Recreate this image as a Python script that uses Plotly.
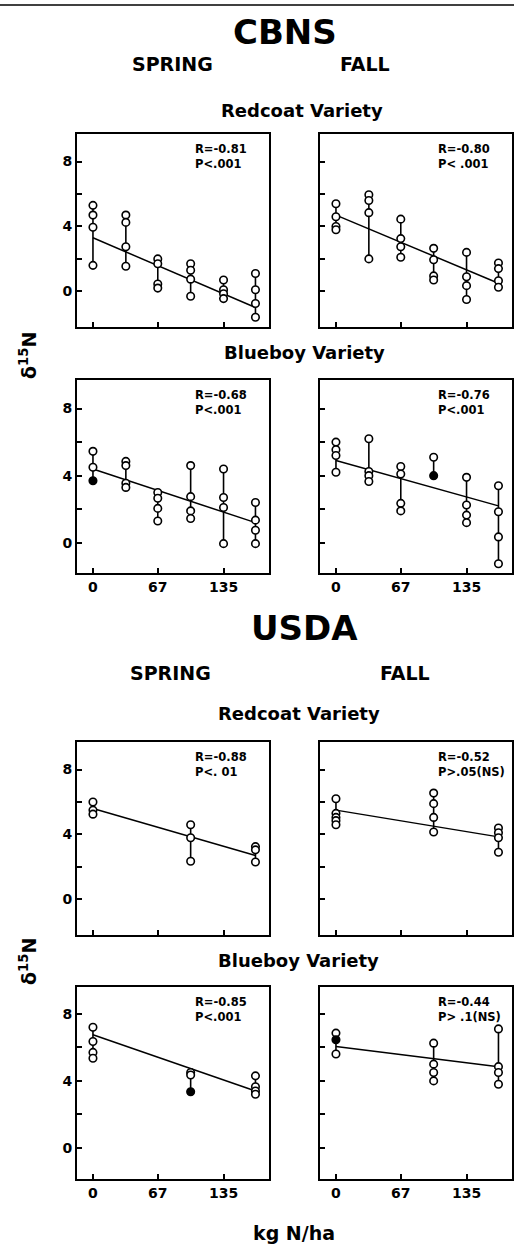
import plotly.graph_objects as go

W, H = 514, 1246

# ---------------- data ----------------
# nitrogen rates (kg N/ha)
x_cbns = [0, 34, 67, 101, 135, 168]
x_usda = [0, 101, 168]

# CBNS, Redcoat, spring  (open circles per N rate)
cbns_red_spring = [[5.3, 4.7, 3.95, 1.6], [4.7, 4.25, 2.75, 1.55], [2.0, 1.7, 0.45, 0.2],
                   [1.7, 1.3, 0.75, -0.3], [0.7, 0.1, -0.15, -0.45], [1.1, 0.1, -0.75, -1.6]]
cbns_red_spring_filled = [[], [], [], [], [], []]
cbns_red_spring_fit = [3.3, -1.0]

# CBNS, Redcoat, fall
cbns_red_fall = [[5.4, 4.6, 4.0, 3.8], [5.95, 5.6, 4.85, 2.0], [4.45, 3.25, 2.75, 2.1],
                 [2.65, 1.95, 0.95, 0.7], [2.4, 0.9, 0.35, -0.5], [1.75, 1.4, 0.65, 0.25]]
cbns_red_fall_filled = [[], [], [], [], [], []]
cbns_red_fall_fit = [4.7, 0.5]

# CBNS, Blueboy, spring
cbns_blue_spring = [[5.45, 4.5], [4.85, 4.6, 3.55, 3.3], [3.0, 2.65, 2.05, 1.3],
                    [4.6, 2.75, 1.9, 1.45], [4.4, 2.7, 2.1, -0.05], [2.4, 1.35, 0.75, -0.05]]
cbns_blue_spring_filled = [[3.7], [], [], [], [], []]
cbns_blue_spring_fit = [4.4, 1.2]

# CBNS, Blueboy, fall
cbns_blue_fall = [[6.0, 5.55, 5.2, 4.2], [6.2, 4.25, 4.0, 3.65], [4.55, 4.1, 2.35, 1.9],
                  [5.1], [3.9, 2.25, 1.65, 1.2], [3.4, 1.85, 0.35, -1.25]]
cbns_blue_fall_filled = [[], [], [], [4.0], [], []]
cbns_blue_fall_fit = [4.9, 2.2]

# USDA, Redcoat, spring
usda_red_spring = [[6.0, 5.5, 5.25], [4.6, 3.8, 2.35], [3.25, 3.05, 2.3]]
usda_red_spring_filled = [[], [], []]
usda_red_spring_fit = [5.6, 2.7]

# USDA, Redcoat, fall
usda_red_fall = [[6.2, 5.3, 5.05, 4.85, 4.6], [6.55, 5.9, 5.05, 4.15], [4.4, 4.1, 3.8, 2.9]]
usda_red_fall_filled = [[], [], []]
usda_red_fall_fit = [5.5, 3.85]

# USDA, Blueboy, spring
usda_blue_spring = [[7.2, 6.35, 5.7, 5.35], [4.5, 4.35], [4.3, 3.65, 3.4, 3.2]]
usda_blue_spring_filled = [[], [3.35], []]
usda_blue_spring_fit = [6.75, 3.4]

# USDA, Blueboy, fall
usda_blue_fall = [[6.85, 5.6], [6.25, 5.0, 4.5, 4.0], [7.1, 4.85, 4.5, 3.8]]
usda_blue_fall_filled = [[6.45], [], []]
usda_blue_fall_fit = [6.05, 4.85]

r_labels = ["R=-0.81", "R=-0.80", "R=-0.68", "R=-0.76", "R=-0.88", "R=-0.52", "R=-0.85", "R=-0.44"]
p_labels = ["P&lt;.001", "P&lt; .001", "P&lt;.001", "P&lt;.001", "P&lt;. 01", "P&gt;.05(NS)", "P&lt;.001", "P&gt; .1(NS)"]

x_tickvals = [0, 67, 135]
x_ticktext = ["0", "67", "135"]
y_tickvals = [0, 4, 8]
y_ticktext = ["0", "4", "8"]
y_minor_tickvals = [2, 6]

# ---------------- layout geometry (pixels) ----------------
rows_px = [(134, 327), (380, 573), (742, 935), (987, 1179)]
cols_px = [(77, 269), (320, 512)]
y_ranges = [[-2.2, 9.7], [-1.8, 9.7], [-2.2, 9.7], [-1.85, 9.6]]
x_range = [-16.5, 182]

panels = [
    (x_cbns, cbns_red_spring, cbns_red_spring_filled, cbns_red_spring_fit),
    (x_cbns, cbns_red_fall, cbns_red_fall_filled, cbns_red_fall_fit),
    (x_cbns, cbns_blue_spring, cbns_blue_spring_filled, cbns_blue_spring_fit),
    (x_cbns, cbns_blue_fall, cbns_blue_fall_filled, cbns_blue_fall_fit),
    (x_usda, usda_red_spring, usda_red_spring_filled, usda_red_spring_fit),
    (x_usda, usda_red_fall, usda_red_fall_filled, usda_red_fall_fit),
    (x_usda, usda_blue_spring, usda_blue_spring_filled, usda_blue_spring_fit),
    (x_usda, usda_blue_fall, usda_blue_fall_filled, usda_blue_fall_fit),
]

FONT = "DejaVu Sans"
fig = go.Figure()
layout = dict(width=W, height=H, margin=dict(l=0, r=0, t=0, b=0),
              paper_bgcolor="white", plot_bgcolor="white", showlegend=False)
annotations = []


def px_x(x):
    return x / W


def px_y(y):
    return 1 - y / H


for i, (xs, groups, filled, fit) in enumerate(panels):
    n = i + 1
    row, col = divmod(i, 2)
    t, b = rows_px[row]
    l, r = cols_px[col]
    xa = "x" if n == 1 else f"x{n}"
    ya = "y" if n == 1 else f"y{n}"

    # range bars
    lx, ly = [], []
    for xv, g, fg in zip(xs, groups, filled):
        vals = list(g) + list(fg)
        lx += [xv, xv, None]
        ly += [min(vals), max(vals), None]
    fig.add_trace(go.Scatter(x=lx, y=ly, mode="lines", line=dict(color="black", width=1.6),
                             xaxis=xa, yaxis=ya, hoverinfo="skip"))
    # regression line
    fig.add_trace(go.Scatter(x=[xs[0], xs[-1]], y=fit, mode="lines",
                             line=dict(color="black", width=1.5), xaxis=xa, yaxis=ya))
    # open circles
    ox, oy = [], []
    for xv, g in zip(xs, groups):
        ox += [xv] * len(g)
        oy += list(g)
    fig.add_trace(go.Scatter(x=ox, y=oy, mode="markers", xaxis=xa, yaxis=ya,
                             marker=dict(symbol="circle", size=7.5, color="white",
                                         line=dict(color="black", width=1.6))))
    # filled circles
    fx, fy = [], []
    for xv, g in zip(xs, filled):
        fx += [xv] * len(g)
        fy += list(g)
    if fx:
        fig.add_trace(go.Scatter(x=fx, y=fy, mode="markers", xaxis=xa, yaxis=ya,
                                 marker=dict(symbol="circle", size=7.5, color="black",
                                             line=dict(color="black", width=1.6))))

    show_x_labels = row in (1, 3)
    show_y_labels = col == 0
    layout["xaxis" if n == 1 else f"xaxis{n}"] = dict(
        domain=[px_x(l), px_x(r)], range=x_range, anchor=ya,
        showgrid=False, zeroline=False, showline=True, mirror=True,
        linecolor="black", linewidth=2,
        tickvals=x_tickvals, ticktext=x_ticktext, ticks="inside", ticklen=5,
        tickwidth=1.5, tickcolor="black", showticklabels=show_x_labels,
        tickfont=dict(family=FONT, size=14, color="black", weight="bold"))
    layout["yaxis" if n == 1 else f"yaxis{n}"] = dict(
        domain=[px_y(b), px_y(t)], range=y_ranges[row], anchor=xa,
        showgrid=False, zeroline=False, showline=True, mirror=True,
        linecolor="black", linewidth=2,
        tickvals=y_tickvals, ticktext=y_ticktext, ticks="inside", ticklen=5,
        tickwidth=1.5, tickcolor="black", showticklabels=show_y_labels,
        minor=dict(tickvals=y_minor_tickvals, ticks="inside", ticklen=5,
                   tickwidth=1.5, tickcolor="black", showgrid=False),
        tickfont=dict(family=FONT, size=14, color="black", weight="bold"))

    # R / P annotations
    ax = l + 116
    annotations.append(dict(x=px_x(ax), y=px_y(t + 15), xref="paper", yref="paper",
                            text=r_labels[i], showarrow=False, xanchor="left", yanchor="middle",
                            font=dict(family=FONT, size=11.5, color="black", weight="bold")))
    annotations.append(dict(x=px_x(ax), y=px_y(t + 30), xref="paper", yref="paper",
                            text=p_labels[i], showarrow=False, xanchor="left", yanchor="middle",
                            font=dict(family=FONT, size=11.5, color="black", weight="bold")))


def label(text, x, y, size, angle=0):
    annotations.append(dict(x=px_x(x), y=px_y(y), xref="paper", yref="paper", text=text,
                            showarrow=False, xanchor="center", yanchor="middle", textangle=angle,
                            font=dict(family=FONT, size=size, color="black", weight="bold")))


label("CBNS", 285, 32, 34)
label("SPRING", 172, 64, 19)
label("FALL", 365, 64, 19)
label("Redcoat Variety", 302, 110, 18)
label("Blueboy Variety", 304, 352, 18)
label("USDA", 304, 628, 34)
label("SPRING", 170, 673, 19)
label("FALL", 405, 673, 19)
label("Redcoat Variety", 299, 713, 18)
label("Blueboy Variety", 298, 960, 18)
label("δ<sup>15</sup>N", 28, 356, 19, -90)
label("δ<sup>15</sup>N", 28, 962, 19, -90)
label("kg N/ha", 294, 1233, 19)

layout["annotations"] = annotations
layout["shapes"] = [dict(type="line", xref="paper", yref="paper", x0=0, x1=1,
                         y0=px_y(5), y1=px_y(5), line=dict(color="black", width=1.5))]

fig.update_layout(**layout)
fig.write_html(
    "out.html",
    config={"displayModeBar": False},
    post_script="document.documentElement.style.margin='0';document.body.style.margin='0';"
                "document.body.style.padding='0';document.body.style.overflow='hidden';",
)
